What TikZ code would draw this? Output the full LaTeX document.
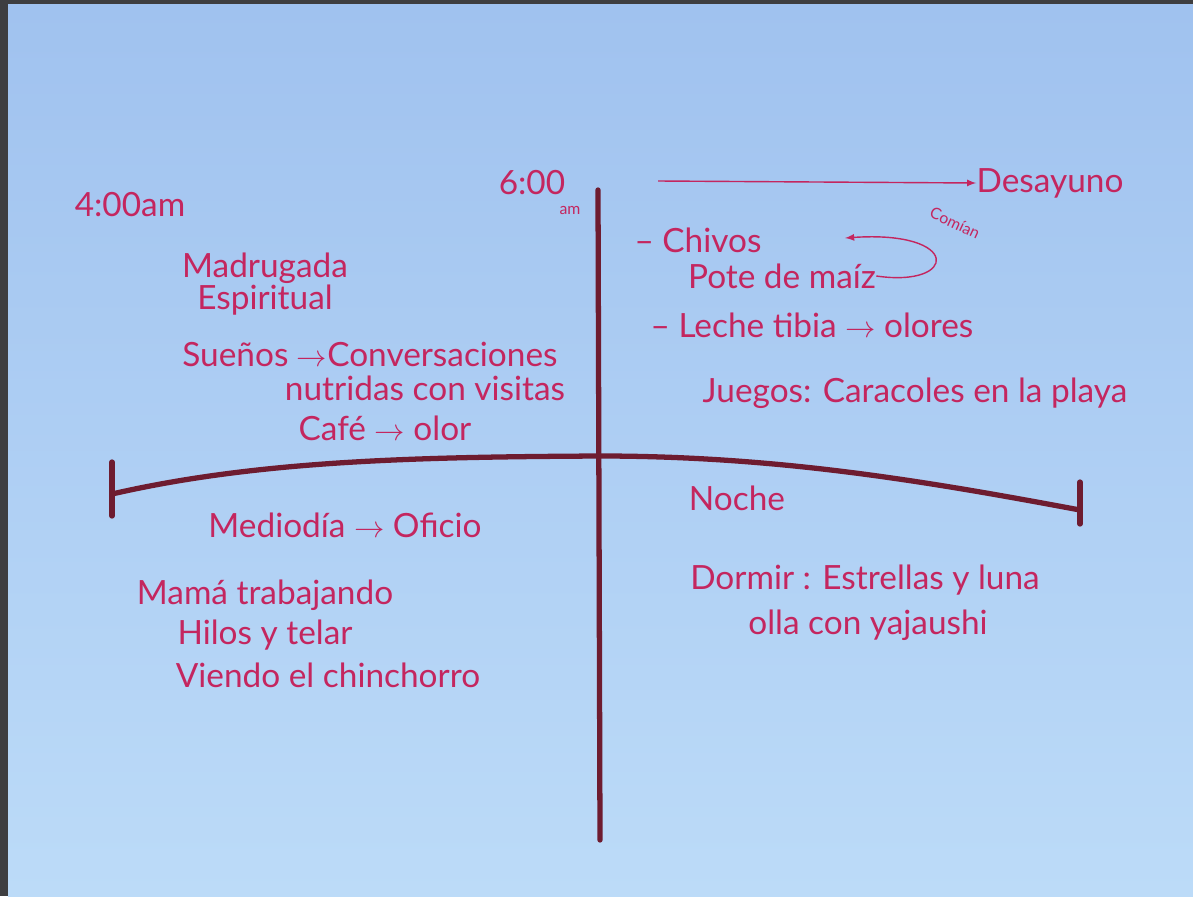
\documentclass[tikz,border=0pt]{standalone}
\usepackage{fontspec}
\setmainfont{Lato}
\definecolor{papertop}{HTML}{A0C2EF}
\definecolor{paperbot}{HTML}{BCDBF8}
\definecolor{ink}{HTML}{C4265F}
\definecolor{axis}{HTML}{6E1C30}
\definecolor{frame}{HTML}{3E3E40}

\begin{document}
\begin{tikzpicture}[x=0.02cm,y=-0.02cm,
  txt/.style={text=ink,font=\fontsize{19}{22}\selectfont,inner sep=0pt},
  tiny/.style={text=ink,font=\fontsize{9}{11}\selectfont,inner sep=0pt},
  axisline/.style={draw=axis,line width=3pt,line cap=round},
  inkline/.style={draw=ink,line width=0.8pt,->,>=latex}]

% paper
\fill[frame] (0,0) rectangle (1193,896);
\shade[top color=papertop,bottom color=paperbot] (8,4) rectangle (1193,896);

% the two axes
\draw[axisline] (598,190) -- (600,840);
\draw[axisline] (112,494) .. controls (260,460) and (420,457) .. (600,456)
  .. controls (780,456) and (930,482) .. (1080,510);
\draw[axisline] (112,462) -- (112,516);
\draw[axisline] (1080,482) -- (1080,524);

% arriba izquierda
\node[txt] (hora4) at (130,205) {4:00am};
\node[txt] (hora6) at (532,183) {6:00};
\node[tiny] (am6) at (570,210) {am};
\node[txt] (madrugada) at (265,268) {Madrugada};
\node[txt] (espiritual) at (265,300) {Espiritual};
\node[txt] (suenos) at (370,354) {Sueños $\rightarrow$Conversaciones};
\node[txt] (nutridas) at (425,388) {nutridas con visitas};
\node[txt] (cafe) at (385,428) {Café $\rightarrow$ olor};

% arriba derecha
\coordinate (desde) at (658,181);
\node[txt] (desayuno) at (1050,183) {Desayuno};
\draw[inkline] (desde) -- (desayuno.west);
\node[txt] (chivos) at (698,240) {– Chivos};
\node[txt] (pote) at (782,276) {Pote de maíz};
\coordinate (punta) at (845,238);
\draw[inkline] (pote.east) .. controls (958,288) and (962,230) .. (punta);
\node[tiny,rotate=-25] (comian) at (955,223) {Comían};
\node[txt] (leche) at (812,325) {– Leche tibia $\rightarrow$ olores};
\node[txt] (juegos) at (915,393) {Juegos: Caracoles en la playa};

% abajo
\node[txt] (mediodia) at (345,525) {Mediodía $\rightarrow$ Oficio};
\node[txt] (mama) at (265,595) {Mamá trabajando};
\node[txt] (hilos) at (265,635) {Hilos y telar};
\node[txt] (viendo) at (328,675) {Viendo el chinchorro};
\node[txt] (noche) at (737,498) {Noche};
\node[txt] (dormir) at (865,580) {Dormir : Estrellas y luna};
\node[txt] (olla) at (868,625) {olla con yajaushi};

\end{tikzpicture}
\end{document}
